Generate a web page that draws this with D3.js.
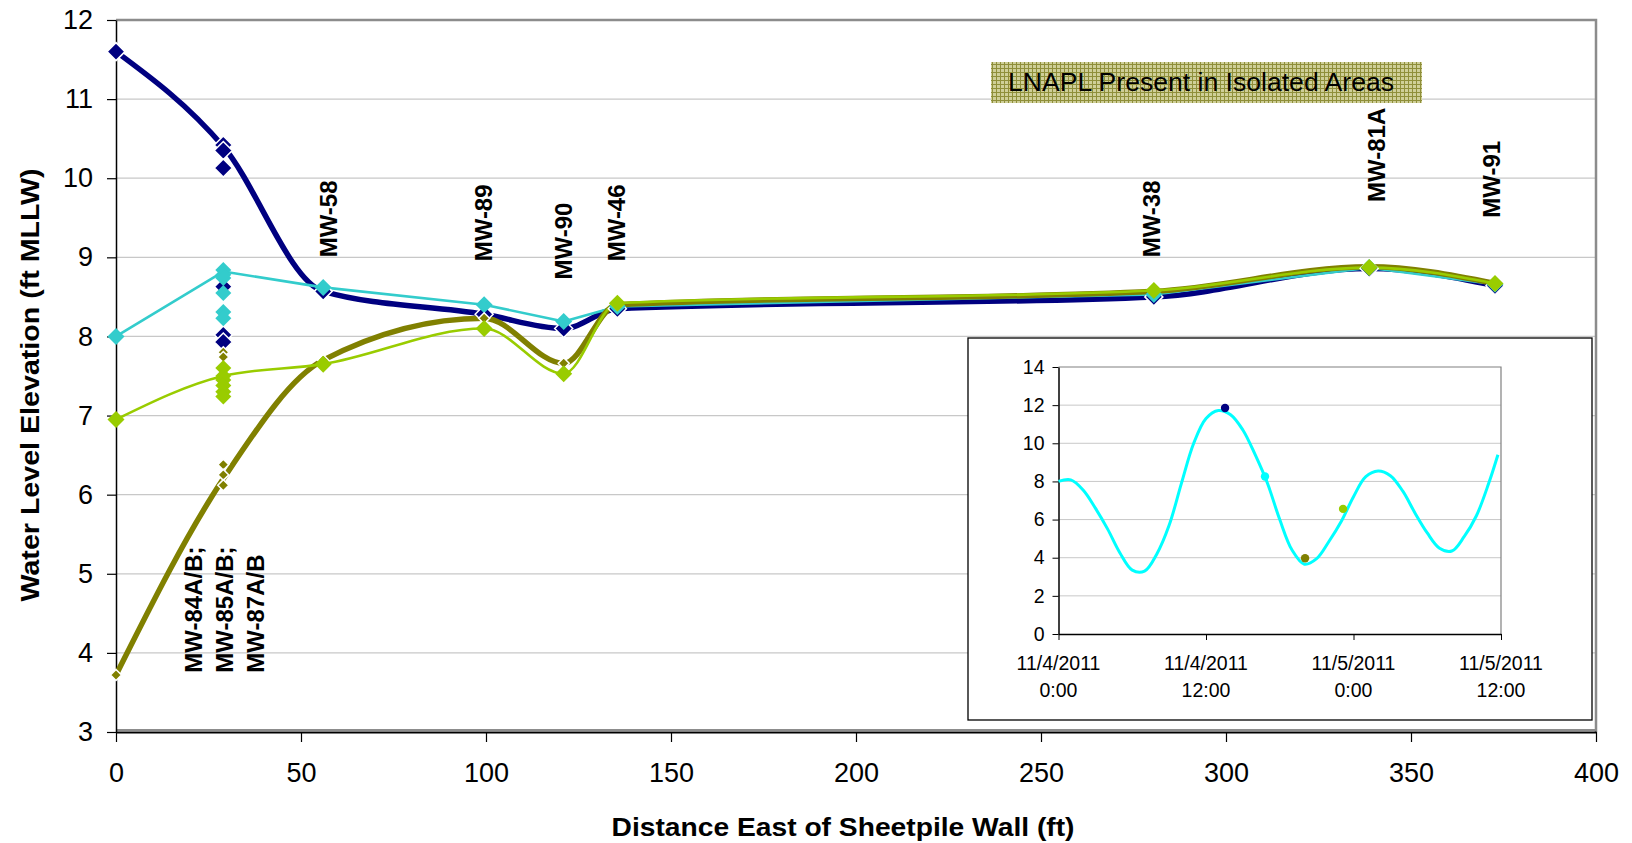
<!DOCTYPE html>
<html>
<head>
<meta charset="utf-8">
<script src="https://cdn.jsdelivr.net/npm/d3@7"></script>
<style>
  html, body { margin: 0; padding: 0; background: #fff; }
  svg { display: block; }
  text { font-family: "Liberation Sans", Arial, sans-serif; fill: #000; }
</style>
</head>
<body>
<svg id="chart" width="1632" height="843"></svg>
<script>
// ---- Water level profile east of the sheetpile wall ----
const xTicks = [0, 50, 100, 150, 200, 250, 300, 350, 400];
const yTicks = [3, 4, 5, 6, 7, 8, 9, 10, 11, 12];

// well distances (ft) along the transect
const wellDist = [0, 29, 56, 99.5, 121, 135.5, 280.5, 338.7, 372.7];

// profile per survey time (elevation, ft MLLW) at wellDist
const navyProfile   = [11.6, 10.40, 8.57, 8.28, 8.10, 8.35, 8.50, 8.86, 8.64];
const cyanProfile   = [8.00, 8.82, 8.62, 8.40, 8.19, 8.38, 8.53, 8.87, 8.66];
const greenProfile  = [6.95, 7.50, 7.65, 8.10, 7.53, 8.42, 8.58, 8.87, 8.67];
const oliveProfile  = [3.72, 6.20, 7.70, 8.23, 7.66, 8.40, 8.57, 8.88, 8.67];

// all readings at the MW-84/85/87 cluster (29 ft)
const clusterDist  = 29;
const navyCluster  = [10.42, 10.35, 10.13, 8.63, 8.02, 7.93];
const cyanCluster  = [8.84, 8.78, 8.74, 8.55, 8.31, 8.23];
const greenCluster = [7.60, 7.50, 7.45, 7.38, 7.30, 7.24];
const oliveCluster = [7.80, 7.74, 7.22, 6.38, 6.25, 6.12];

// well labels: name lines, distance (ft), elevation where text ends
const labelNames = [["MW-84A/B;", "MW-85A/B;", "MW-87A/B"], ["MW-58"], ["MW-89"], ["MW-90"], ["MW-46"], ["MW-38"], ["MW-81A"], ["MW-91"]];
const labelDist  = [21, 57.5, 99.5, 121, 135.5, 280, 340.8, 372];
const labelElev  = [3.75, 9.0, 8.95, 8.72, 8.95, 9.0, 9.7, 9.5];

// tide record (inset): hours since 11/4/2011 0:00, elevation
const tideHours = [0,1,2,3,4,5,6,7,8,9,10,11,12,13,14,15,16,17,18,19,20,21,22,23,24,25,26,27,28,29,30,31,32,33,34,35,35.75];
const tideElev  = [8.0,8.08,7.55,6.6,5.5,4.25,3.35,3.3,4.2,5.7,7.9,10.0,11.3,11.72,11.5,10.7,9.4,7.9,6.0,4.4,3.66,3.95,4.85,5.9,7.2,8.25,8.55,8.3,7.5,6.35,5.3,4.5,4.35,5.1,6.2,7.9,9.4];
const tideDateTicks = [0, 12, 24, 36];
const tideDateLines = [["11/4/2011", "0:00"], ["11/4/2011", "12:00"], ["11/5/2011", "0:00"], ["11/5/2011", "12:00"]];
const tideYTicks = [0, 2, 4, 6, 8, 10, 12, 14];
// survey times (hours) and tide elevations marked on the inset
const surveyHours = [13.55, 16.8, 20.06, 23.15];
const surveyElev  = [11.85, 8.26, 3.97, 6.56];

const colors = { navy: "#000080", cyan: "#33CCCC", green: "#99CC00", olive: "#808000" };
const surveyColors = ["#000080", "#00FFFF", "#808000", "#99CC00"];

const svg = d3.select("#chart");
const plot = { left: 116, right: 1596, top: 20, bottom: 732 };

const x = d3.scaleLinear().domain([0, 400]).range([plot.left, plot.right]);
const y = d3.scaleLinear().domain([3, 12]).range([plot.bottom, plot.top]);

// gridlines
svg.append("g").selectAll("line").data(yTicks.filter(v => v > 3 && v < 12)).join("line")
  .attr("x1", plot.left).attr("x2", plot.right)
  .attr("y1", d => y(d)).attr("y2", d => y(d))
  .attr("stroke", "#c8c8c8").attr("stroke-width", 1.2);

// plot frame (top/right)
svg.append("path")
  .attr("d", `M${plot.left},${plot.top}H${plot.right}V${plot.bottom}`)
  .attr("fill", "none").attr("stroke", "#8c8c8c").attr("stroke-width", 2.5);

// axes
const xAxis = svg.append("g").attr("transform", `translate(0,${plot.bottom})`)
  .call(d3.axisBottom(x).tickValues(xTicks).tickSize(10).tickPadding(21).tickSizeOuter(0));
xAxis.select(".domain").attr("stroke", "#000").attr("stroke-width", 2);
xAxis.selectAll(".tick line").attr("stroke", "#000").attr("stroke-width", 1.2);
xAxis.selectAll("text").attr("font-size", 27).attr("font-family", "Liberation Sans, Arial, sans-serif");
svg.append("line").attr("x1", plot.left).attr("x2", plot.right)
  .attr("y1", plot.bottom - 2).attr("y2", plot.bottom - 2)
  .attr("stroke", "#8c8c8c").attr("stroke-width", 2);

const yAxis = svg.append("g").attr("transform", `translate(${plot.left},0)`)
  .call(d3.axisLeft(y).tickValues(yTicks).tickSize(9).tickPadding(14).tickSizeOuter(0));
yAxis.select(".domain").attr("stroke", "#000").attr("stroke-width", 1.5);
yAxis.selectAll(".tick line").attr("stroke", "#000").attr("stroke-width", 1.2);
yAxis.selectAll("text").attr("font-size", 27).attr("font-family", "Liberation Sans, Arial, sans-serif");

// axis titles
svg.append("text").attr("x", 843).attr("y", 836).attr("text-anchor", "middle")
  .attr("font-size", 26).attr("font-weight", "bold")
  .attr("textLength", 463).attr("lengthAdjust", "spacingAndGlyphs")
  .text("Distance East of Sheetpile Wall (ft)");
svg.append("text").attr("transform", "translate(39,385) rotate(-90)").attr("text-anchor", "middle")
  .attr("font-size", 25).attr("font-weight", "bold")
  .attr("textLength", 433).attr("lengthAdjust", "spacingAndGlyphs")
  .text("Water Level Elevation (ft MLLW)");

// LNAPL note box with fine hatch fill
const defs = svg.append("defs");
const pat = defs.append("pattern").attr("id", "hatch").attr("patternUnits", "userSpaceOnUse")
  .attr("width", 4).attr("height", 4);
pat.append("rect").attr("width", 4).attr("height", 4).attr("fill", "#cfcf98");
pat.append("rect").attr("width", 4).attr("height", 1).attr("fill", "#8f8f3a");
pat.append("rect").attr("width", 1).attr("height", 4).attr("fill", "#8f8f3a");
svg.append("rect").attr("x", 991).attr("y", 62).attr("width", 431).attr("height", 41)
  .attr("fill", "url(#hatch)");
svg.append("text").attr("x", 1008).attr("y", 91).attr("font-size", 26)
  .attr("textLength", 386).attr("lengthAdjust", "spacingAndGlyphs")
  .text("LNAPL Present in Isolated Areas");

// profile lines
const smooth = d3.line().x(d => x(d[0])).y(d => y(d[1])).curve(d3.curveMonotoneX);
const straight = d3.line().x(d => x(d[0])).y(d => y(d[1]));
const series = [
  { vals: navyProfile, color: colors.navy, width: 5.5, gen: smooth, cluster: navyCluster, r: 9, r29: 9, stroke: "#fff" },
  { vals: cyanProfile, color: colors.cyan, width: 2.6, gen: straight, cluster: cyanCluster, r: 8.5, r29: 8, stroke: "none" },
  { vals: oliveProfile, color: colors.olive, width: 5.5, gen: smooth, cluster: oliveCluster, r: 5.5, r29: 5.5, stroke: "#fff" },
  { vals: greenProfile, color: colors.green, width: 2.6, gen: smooth, cluster: greenCluster, r: 8.5, r29: 8, stroke: "none" }
];
const gLines = svg.append("g");
series.forEach(s => {
  gLines.append("path").datum(wellDist.map((d, i) => [d, s.vals[i]]))
    .attr("d", s.gen).attr("fill", "none")
    .attr("stroke", s.color).attr("stroke-width", s.width)
    .attr("stroke-linejoin", "round").attr("stroke-linecap", "round");
});

// markers
const diamond = r => `M0,${-r}L${r},0L0,${r}L${-r},0Z`;
const gMarks = svg.append("g");
series.forEach(s => {
  const pts = wellDist.map((d, i) => [d, s.vals[i]]).filter(p => p[0] !== clusterDist)
    .concat(s.cluster.map(v => [clusterDist, v]));
  gMarks.append("g").selectAll("path").data(pts).join("path")
    .attr("transform", d => `translate(${x(d[0])},${y(d[1])})`)
    .attr("d", d => diamond(d[0] === clusterDist ? s.r29 : s.r))
    .attr("fill", s.color)
    .attr("stroke", s.stroke).attr("stroke-width", s.stroke === "none" ? 0 : 1.5);
});

// well labels (rotated)
const gLab = svg.append("g");
labelNames.forEach((names, i) => {
  const cx = x(labelDist[i]), by = y(labelElev[i]);
  const t = gLab.append("text")
    .attr("transform", `translate(${cx},${by}) rotate(-90)`)
    .attr("font-size", 24).attr("font-weight", "bold");
  names.forEach((n, j) => {
    t.append("tspan").attr("x", 0).attr("y", 8 + j * 31).text(n);
  });
});

// ---- inset: tide record ----
const ib = { x: 968, y: 338, w: 624, h: 382 };
svg.append("rect").attr("x", ib.x).attr("y", ib.y).attr("width", ib.w).attr("height", ib.h)
  .attr("fill", "#fff").attr("stroke", "#000").attr("stroke-width", 1.3);

const ip = { left: 1058.5, right: 1501, top: 367, bottom: 634 };
const xi = d3.scaleLinear().domain([0, 36]).range([ip.left, ip.right]);
const yi = d3.scaleLinear().domain([0, 14]).range([ip.bottom, ip.top]);

svg.append("g").selectAll("line").data(tideYTicks.filter(v => v > 0 && v < 14)).join("line")
  .attr("x1", ip.left).attr("x2", ip.right)
  .attr("y1", d => yi(d)).attr("y2", d => yi(d))
  .attr("stroke", "#c8c8c8").attr("stroke-width", 1);
svg.append("path").attr("d", `M${ip.left},${ip.top}H${ip.right}V${ip.bottom}`)
  .attr("fill", "none").attr("stroke", "#808080").attr("stroke-width", 1.2);

const xiAxis = svg.append("g").attr("transform", `translate(0,${ip.bottom})`)
  .call(d3.axisBottom(xi).tickValues(tideDateTicks).tickSize(6).tickSizeOuter(0).tickFormat(""));
xiAxis.select(".domain").attr("stroke", "#000").attr("stroke-width", 1.5);
xiAxis.selectAll(".tick line").attr("stroke", "#000");
const dateLab = svg.append("g");
tideDateTicks.forEach((h, i) => {
  const t = dateLab.append("text").attr("text-anchor", "middle").attr("font-size", 19.5);
  tideDateLines[i].forEach((s, j) => {
    t.append("tspan").attr("x", xi(h)).attr("y", 670 + j * 27).text(s);
  });
});

const yiAxis = svg.append("g").attr("transform", `translate(${ip.left},0)`)
  .call(d3.axisLeft(yi).tickValues(tideYTicks).tickSize(6).tickPadding(8).tickSizeOuter(0));
yiAxis.select(".domain").attr("stroke", "#000").attr("stroke-width", 1.5);
yiAxis.selectAll(".tick line").attr("stroke", "#000");
yiAxis.selectAll("text").attr("font-size", 19.5).attr("font-family", "Liberation Sans, Arial, sans-serif");

const tideLine = d3.line().x((d, i) => xi(tideHours[i])).y(d => yi(d)).curve(d3.curveCatmullRom.alpha(0.5));
svg.append("path").datum(tideElev).attr("d", tideLine)
  .attr("fill", "none").attr("stroke", "#00FFFF").attr("stroke-width", 3);

svg.append("g").selectAll("circle").data(surveyHours).join("circle")
  .attr("cx", d => xi(d)).attr("cy", (d, i) => yi(surveyElev[i])).attr("r", 4.2)
  .attr("fill", (d, i) => surveyColors[i]);
</script>
</body>
</html>
